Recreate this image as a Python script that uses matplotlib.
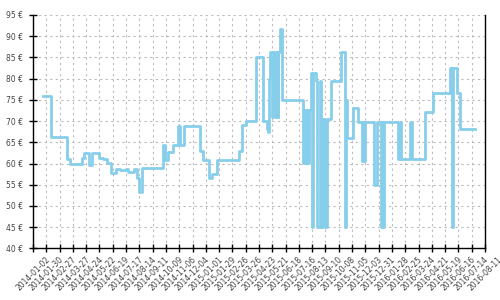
import numpy as np
import pandas as pd
import matplotlib; matplotlib.use("Agg")
import matplotlib.pyplot as plt
import matplotlib.dates as mdates

dates = ["2014-01-24", "2014-02-08", "2014-03-15", "2014-03-20", "2014-04-15", "2014-04-20",
         "2014-04-29", "2014-05-07", "2014-05-21", "2014-05-30", "2014-06-06", "2014-06-16",
         "2014-06-25", "2014-07-04", "2014-07-16", "2014-07-21", "2014-08-03", "2014-08-09",
         "2014-08-14", "2014-08-19", "2014-10-02", "2014-10-07", "2014-10-14", "2014-10-24",
         "2014-11-03", "2014-11-07", "2014-11-16", "2014-12-20", "2014-12-27", "2015-01-07",
         "2015-01-15", "2015-01-24", "2015-03-12", "2015-03-18", "2015-03-26", "2015-04-17",
         "2015-05-02", "2015-05-09", "2015-05-12", "2015-05-15", "2015-05-17", "2015-05-21",
         "2015-05-23", "2015-05-27", "2015-05-29", "2015-06-01", "2015-06-03", "2015-06-07",
         "2015-06-11", "2015-07-25", "2015-07-29", "2015-08-01", "2015-08-03", "2015-08-05",
         "2015-08-07", "2015-08-10", "2015-08-12", "2015-08-15", "2015-08-22", "2015-08-23",
         "2015-08-29", "2015-08-31", "2015-09-05", "2015-09-09", "2015-09-13", "2015-09-21",
         "2015-10-12", "2015-10-21", "2015-10-23", "2015-10-25", "2015-11-08", "2015-11-17",
         "2015-11-26", "2015-11-28", "2015-11-30", "2015-12-02", "2015-12-21", "2015-12-27",
         "2016-01-05", "2016-01-07", "2016-01-09", "2016-01-12", "2016-02-09", "2016-02-15",
         "2016-02-17", "2016-03-07", "2016-03-11", "2016-04-07", "2016-04-24", "2016-05-29",
         "2016-05-31", "2016-06-01", "2016-06-02", "2016-06-05", "2016-06-13", "2016-06-20",
         "2016-07-20"]
prices = [75.8, 66.2, 61.1, 60.0, 61.2, 62.5,
          59.7, 62.5, 61.4, 61.1, 60.1, 57.8,
          58.7, 58.5, 58.8, 57.9, 58.7, 56.5,
          53.4, 58.9, 64.4, 60.8, 62.6, 64.4,
          68.9, 64.4, 68.9, 63.0, 60.9, 56.6,
          57.6, 60.9, 63.0, 69.1, 70.0, 85.0,
          70.0, 68.2, 67.5, 80.0, 86.2, 71.0,
          86.2, 71.0, 86.2, 71.0, 86.2, 91.7,
          75.0, 60.2, 72.5, 60.2, 72.5, 60.2,
          72.5, 81.3, 45.0, 81.3, 79.5, 45.0,
          79.5, 45.0, 70.4, 45.0, 70.4, 79.5,
          86.3, 45.0, 75.0, 66.0, 73.0, 69.7,
          60.7, 69.7, 60.7, 69.7, 55.0, 69.7,
          45.0, 69.7, 45.0, 69.7, 61.0, 69.8,
          61.0, 69.8, 61.0, 72.2, 76.7, 82.5,
          76.7, 82.5, 45.0, 82.5, 76.7, 68.2,
          68.2]

tick_start, tick_end = "2014-01-02", "2016-08-11"
y_ticks = [40, 45, 50, 55, 60, 65, 70, 75, 80, 85, 90, 95]

x = pd.to_datetime(dates)
xt = pd.date_range(tick_start, tick_end, freq="28D")

fig = plt.figure(figsize=(5, 3), dpi=100)
ax = fig.add_axes([0.066, 0.172, 0.904, 0.778])
ax.plot(x, prices, color="#87ceeb", lw=2, drawstyle="steps-post", zorder=3)

ax.set_xlim(xt[0], xt[-1])
ax.set_ylim(40, 95)
ax.set_xticks(xt)
ax.set_xticklabels([d.strftime("%Y-%m-%d") for d in xt], rotation=45, ha="center")
ax.set_yticks(y_ticks)
ax.set_yticklabels([f"{v} €" for v in y_ticks])
ax.tick_params(axis="both", direction="inout", length=6, width=1, labelsize=5.5,
               labelcolor="#444444", pad=2)
ax.tick_params(axis="y", pad=4)
ax.grid(True, color="#bbbbbb", lw=0.8, ls=(0, (2, 3)))
ax.spines["top"].set_visible(False)
for s in ("left", "bottom", "right"):
    ax.spines[s].set_color("black"); ax.spines[s].set_linewidth(1)

fig.savefig("out.png", dpi=100)
